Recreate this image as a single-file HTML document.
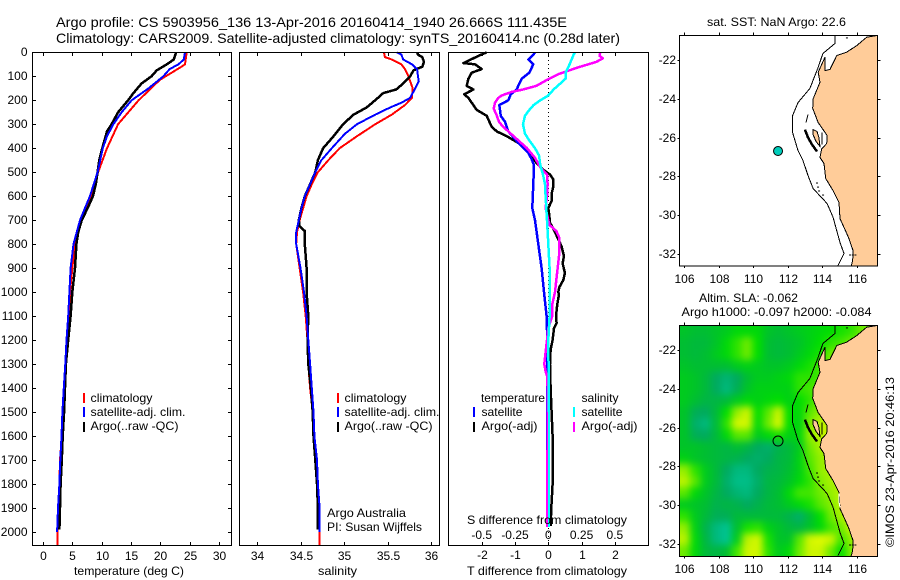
<!DOCTYPE html>
<html lang="en">
<head>
<meta charset="utf-8">
<title>Argo profile 5903956_136</title>
<style>
html,body{margin:0;padding:0;background:#fff;}
svg{display:block;font-family:"Liberation Sans",sans-serif;font-size:12px;fill:#000;}
text{fill:#000;}
.frame{fill:none;stroke:#000;stroke-width:1;shape-rendering:crispEdges;}
</style>
</head>
<body>
<svg id="chart" xmlns="http://www.w3.org/2000/svg" width="900" height="580" viewBox="0 0 900 580">
  <defs>
    <clipPath id="clip-map1"><rect x="679.5" y="35.5" width="198" height="230.5"/></clipPath>
    <clipPath id="clip-map2"><rect x="679.5" y="325.5" width="198" height="231"/></clipPath>
    <filter id="soften" x="-10%" y="-10%" width="120%" height="120%" color-interpolation-filters="sRGB"><feGaussianBlur stdDeviation="3.6"/></filter>
  </defs>

  <text x="56" y="27" font-size="14" textLength="511" lengthAdjust="spacingAndGlyphs">Argo profile: CS 5903956_136 13-Apr-2016 20160414_1940 26.666S 111.435E</text>
  <text x="56" y="43" font-size="14" textLength="564" lengthAdjust="spacingAndGlyphs">Climatology: CARS2009. Satellite-adjusted climatology: synTS_20160414.nc (0.28d later)</text>

  <g id="panel-temp"></g>
  <g id="panel-sal"></g>
  <g id="panel-diff"></g>
  <g id="map-sst" clip-path="url(#clip-map1)"></g>
  <g id="map-sla" clip-path="url(#clip-map2)"></g>
  <g id="axes"></g>

  <text x="74" y="575" textLength="110" lengthAdjust="spacingAndGlyphs">temperature (deg C)</text>
  <text x="318" y="575" textLength="39" lengthAdjust="spacingAndGlyphs">salinity</text>
  <text x="467" y="575" textLength="160" lengthAdjust="spacingAndGlyphs">T difference from climatology</text>
  <text x="467" y="524" textLength="160" lengthAdjust="spacingAndGlyphs">S difference from climatology</text>

  <g>
    <rect x="83" y="393" width="2" height="10" fill="#f00"/>
    <text x="90.5" y="402" textLength="62" lengthAdjust="spacingAndGlyphs">climatology</text>
    <rect x="83" y="407" width="2" height="10" fill="#00f"/>
    <text x="90.5" y="416" textLength="95" lengthAdjust="spacingAndGlyphs">satellite-adj. clim.</text>
    <rect x="83" y="422" width="2" height="10" fill="#000"/>
    <text x="90.5" y="430" textLength="88" lengthAdjust="spacingAndGlyphs">Argo(..raw -QC)</text>
  </g>
  <g>
    <rect x="337" y="393" width="2" height="10" fill="#f00"/>
    <text x="344.5" y="402" textLength="62" lengthAdjust="spacingAndGlyphs">climatology</text>
    <rect x="337" y="407" width="2" height="10" fill="#00f"/>
    <text x="344.5" y="416" textLength="95" lengthAdjust="spacingAndGlyphs">satellite-adj. clim.</text>
    <rect x="337" y="422" width="2" height="10" fill="#000"/>
    <text x="344.5" y="430" textLength="88" lengthAdjust="spacingAndGlyphs">Argo(..raw -QC)</text>
  </g>
  <text x="327" y="517" textLength="79" lengthAdjust="spacingAndGlyphs">Argo Australia</text>
  <text x="327" y="531" textLength="95" lengthAdjust="spacingAndGlyphs">PI: Susan Wijffels</text>

  <g>
    <text x="481" y="402" textLength="64" lengthAdjust="spacingAndGlyphs">temperature</text>
    <rect x="473" y="407" width="2" height="10" fill="#00f"/>
    <text x="481.5" y="416" textLength="41" lengthAdjust="spacingAndGlyphs">satellite</text>
    <rect x="473" y="422" width="2" height="10" fill="#000"/>
    <text x="481.5" y="430" textLength="56" lengthAdjust="spacingAndGlyphs">Argo(-adj)</text>
    <text x="581.5" y="402" textLength="37" lengthAdjust="spacingAndGlyphs">salinity</text>
    <rect x="573" y="407" width="2" height="10" fill="#0ff"/>
    <text x="581.5" y="416" textLength="41" lengthAdjust="spacingAndGlyphs">satellite</text>
    <rect x="573" y="422" width="2" height="10" fill="#f0f"/>
    <text x="581.5" y="430" textLength="56" lengthAdjust="spacingAndGlyphs">Argo(-adj)</text>
  </g>

  <text x="707" y="26" textLength="139" lengthAdjust="spacingAndGlyphs">sat. SST: NaN Argo: 22.6</text>
  <text x="699" y="302" textLength="99" lengthAdjust="spacingAndGlyphs">Altim. SLA: -0.062</text>
  <text x="681.5" y="316" textLength="190" lengthAdjust="spacingAndGlyphs">Argo h1000: -0.097 h2000: -0.084</text>
  <text transform="translate(894,547) rotate(-90)" textLength="170" lengthAdjust="spacingAndGlyphs">©IMOS 23-Apr-2016 20:46:13</text>
</svg>

<script>
// ---------- Axis tick labels ----------
const depthTicks = [0,100,200,300,400,500,600,700,800,900,1000,1100,1200,1300,1400,1500,1600,1700,1800,1900,2000];
const tempTicks = [0,5,10,15,20,25,30];
const salTicks = [34,34.5,35,35.5,36];
const tDiffTicks = [-2,-1,0,1,2];
const sDiffTicks = [-0.5,-0.25,0,0.25,0.5];
const lonTicks = [106,108,110,112,114,116];
const latTicks = [-22,-24,-26,-28,-30,-32];

// ---------- Temperature profiles ----------
const tempClimDepth = [0,50,60,115,200,300,400,500,600,700,800,900,1000,1100,1200,1300,1400,1500,1600,1700,1800,1900,2000,2054];
const tempClim = [24.5,24.2,23.6,19.9,16.3,12.8,10.9,9.4,8.3,6.5,5.45,5.0,4.6,4.4,4.0,3.8,3.6,3.35,3.2,2.9,2.8,2.6,2.45,2.45];
const tempSatDepth = [0,30,50,70,100,150,200,250,300,350,400,500,600,700,800,900,1000,1100,1200,1300,1400,1500,1600,1700,1800,1900,2000];
const tempSat = [24.2,24,23.1,21.6,20.5,18,15.1,13.4,12,10.9,10.2,9.3,8,6.3,5.2,4.7,4.5,4.3,4,3.8,3.55,3.3,3.15,2.95,2.8,2.55,2.4];
const tempArgoDepth = [0,30,50,75,100,130,170,200,250,300,330,400,450,500,550,600,650,700,750,800,900,1000,1100,1200,1300,1400,1500,1600,1700,1800,1900,1990];
const tempArgo = [22.7,22.3,21.1,19.4,18.5,16.8,15.4,14.5,12.8,11.7,10.9,10.1,9.6,9.3,9,8.5,7.6,6.6,6,5.7,5.45,5,4.7,4.3,3.9,3.75,3.6,3.35,3.2,3,2.9,2.8];

// ---------- Salinity profiles ----------
const salClimDepth = [0,20,30,50,70,100,150,190,220,260,300,350,400,450,500,550,600,650,700,750,800,900,1000,1100,1200,1300,1400,1500,1600,1700,1800,1900,2000,2054];
const salClim = [35.46,35.47,35.55,35.66,35.70,35.74,35.79,35.78,35.70,35.55,35.36,35.15,34.95,34.82,34.70,34.63,34.57,34.53,34.49,34.46,34.45,34.49,34.53,34.56,34.58,34.59,34.61,34.64,34.65,34.67,34.69,34.70,34.72,34.72];
const salSatDepth = [0,10,30,50,70,100,120,150,190,210,230,260,300,340,400,450,500,550,600,650,700,750,800,900,1000,1100,1200,1300,1400,1500,1600,1700,1800,1900,2000];
const salSat = [35.61,35.66,35.68,35.78,35.84,35.85,35.86,35.82,35.76,35.66,35.53,35.36,35.15,35.01,34.86,34.74,34.67,34.61,34.55,34.51,34.48,34.45,34.45,34.50,34.54,34.57,34.59,34.61,34.63,34.65,34.66,34.69,34.70,34.72,34.72];
const salArgoDepth = [0,10,20,40,60,75,100,130,155,170,190,230,260,300,350,400,450,500,550,600,650,700,725,745,800,850,900,1000,1100,1200,1300,1400,1500,1600,1700,1800,1900,1990];
const salArgo = [35.84,35.85,35.90,35.92,35.90,35.80,35.76,35.68,35.60,35.45,35.39,35.26,35.11,34.99,34.88,34.76,34.70,34.67,34.61,34.55,34.51,34.48,34.49,34.55,34.55,34.56,34.57,34.57,34.59,34.58,34.59,34.62,34.64,34.65,34.67,34.69,34.70,34.70];

// ---------- T difference from climatology ----------
const dTArgoDepth = [0,15,45,50,70,85,110,140,155,175,190,220,240,265,290,310,330,350,370,395,420,445,470,490,510,530,560,590,620,650,680,710,750,780,810,850,880,920,950,980,1000,1010,1050,1100,1130,1150,1200,1240,1300,1400,1500,1600,1700,1800,1900,1975];
const dTArgo = [-1.85,-2.1,-2.55,-2.2,-2,-2.3,-2.4,-2.45,-2.25,-2.53,-2.4,-2.25,-2.15,-1.85,-1.77,-1.7,-1.55,-1.25,-1,-0.7,-0.6,-0.45,-0.3,-0.15,0.05,0.15,0.15,0.1,0.1,0,0.03,0.05,0.2,0.3,0.4,0.47,0.43,0.5,0.45,0.33,0.3,0.32,0.27,0.23,0.25,0.17,0.13,0.07,0.05,0.07,0.1,0.13,0.13,0.13,0.09,0.07];
const dTSatDepth = [0,10,30,50,85,110,130,155,175,200,220,240,265,290,330,370,420,445,470,550,650,700,800,900,1000,1100,1200,1400,1500,1980];
const dTSat = [-0.4,-0.45,-0.6,-0.45,-0.57,-0.8,-0.87,-0.95,-1.13,-1.2,-1.47,-1.45,-1.43,-1.3,-1.2,-0.95,-0.6,-0.5,-0.43,-0.45,-0.48,-0.4,-0.3,-0.2,-0.13,-0.05,-0.03,-0.03,-0.03,-0.03];

// ---------- S difference from climatology ----------
const dSSatDepth = [0,10,50,85,110,130,155,180,200,220,245,265,300,340,370,400,430,470,510,550,600,700,800,900,1000,1100,1200,1500,1980];
const dSSat = [0.2,0.19,0.16,0.13,0.13,0.09,0.04,0,-0.06,-0.11,-0.15,-0.175,-0.19,-0.175,-0.14,-0.1,-0.07,-0.06,-0.04,-0.025,-0.02,-0.01,0,0.01,0.01,0.01,0,0.005,0.005];
const dSArgoDepth = [0,15,25,40,60,75,90,115,140,155,165,180,190,210,235,260,290,310,330,360,400,440,480,510,550,600,650,700,720,745,770,850,950,1000,1050,1100,1150,1200,1250,1300,1330,1350,1400,1650,1700,1980];
const dSArgo = [0.39,0.385,0.41,0.36,0.24,0.16,0.08,-0.01,-0.09,-0.19,-0.275,-0.35,-0.375,-0.4,-0.41,-0.39,-0.37,-0.34,-0.3,-0.24,-0.16,-0.1,-0.06,-0.01,-0.005,-0.01,-0.02,0,0.01,0.06,0.08,0.08,0.06,0.05,0.03,0.03,0,-0.01,-0.02,-0.03,-0.02,-0.01,-0.005,-0.005,-0.01,-0.01];

// ---------- Sea level anomaly grid (cm), rows north to south, columns west to east ----------
const slaRow0  = [-9,-10,-10,-9,-8,-6,-6,-6,-9,-10,-9,-8,-7,-6,-5,-4,-3,0,0];
const slaRow1  = [-10,-11,-11,-9,-6,-3,0,-5,-10,-11,-10,-9,-7,-5,-3,-2,0,0,0];
const slaRow2  = [-10,-11,-10,-8,-6,-3,0,-5,-10,-11,-10,-8,-6,-4,0,2,2,0,0];
const slaRow3  = [-9,-10,-10,-10,-10,-8,-7,-8,-9,-9,-8,-6,-4,-2,2,2,2,2,2];
const slaRow4  = [-8,-9,-11,-15,-17,-15,-10,-8,-8,-7,-6,-3,-3,-2,2,2,2,2,2];
const slaRow5  = [-8,-9,-11,-15,-18,-14,-9,-7,-7,-7,-7,-3,-2,0,2,2,2,2,2];
const slaRow6  = [-8,-10,-12,-12,-11,-8,-6,-7,-6,-5,-7,-5,-3,1,2,2,2,2,2];
const slaRow7  = [-9,-14,-15,-11,-5,2,5,-5,-1,5,-5,-6,-1,2,3,2,2,2,2];
const slaRow8  = [-9,-16,-18,-11,-3,6,6,-6,0,7,-5,-7,1,4,5,4,2,2,2];
const slaRow9  = [-9,-14,-15,-11,-6,-1,-1,-8,-6,-4,-7,-6,2,4,5,4,2,2,2];
const slaRow10 = [-9,-9,-10,-11,-12,-10,-12,-15,-16,-13,-11,-8,0,3,3,2,2,2,2];
const slaRow11 = [-7,-9,-10,-11,-12,-13,-15,-16,-15,-12,-11,-7,-1,2,3,2,2,2,2];
const slaRow12 = [2,-3,-8,-11,-15,-18,-18,-15,-13,-12,-10,-7,-2,2,3,3,2,2,2];
const slaRow13 = [4,-1,-8,-11,-16,-19,-19,-16,-12,-11,-9,-6,-3,1,3,3,2,2,2];
const slaRow14 = [-1,-6,-9,-12,-15,-17,-18,-15,-12,-10,-6,-2,-2,0,2,4,2,2,2];
const slaRow15 = [-8,-9,-10,-13,-12,-13,-15,-13,-11,-10,-8,-6,-4,-1,1,4,4,2,2];
const slaRow16 = [-3,-8,-11,-14,-14,-11,-11,-11,-11,-11,-13,-16,-10,-5,0,3,5,2,2];
const slaRow17 = [2,-7,-13,-18,-20,-10,-4,-3,-7,-9,-11,-12,-9,-6,-2,0,5,4,2];
const slaRow18 = [4,-6,-12,-18,-20,-8,4,6,-4,-9,-9,-1,6,8,5,-2,2,4,2];
const slaRow19 = [0,-6,-11,-12,-10,-2,5,6,-3,-8,-6,0,5,5,0,-5,1,3,2];
const slaGrid = [slaRow0,slaRow1,slaRow2,slaRow3,slaRow4,slaRow5,slaRow6,slaRow7,slaRow8,slaRow9,slaRow10,slaRow11,slaRow12,slaRow13,slaRow14,slaRow15,slaRow16,slaRow17,slaRow18,slaRow19];

// ---------- Geography (degrees) ----------
const coastLon = [117.16,116.56,115.98,115.40,114.83,114.44,114.15,114.15,113.76,113.86,113.47,113.44,113.76,114.28,114.25,113.96,113.86,114.09,114.19,114.61,114.96,115.02,115.50,115.77,115.75,115.64];
const coastLat = [-20.71,-20.80,-21.23,-21.57,-21.74,-22.46,-22.52,-21.83,-22.60,-23.12,-23.97,-24.47,-25.20,-25.87,-26.28,-26.55,-27.00,-27.31,-28.08,-28.70,-29.32,-30.15,-31.11,-31.79,-32.31,-32.66];
const peninsulaLon = [113.46,113.69,113.80,113.86,113.63,113.46];
const peninsulaLat = [-25.56,-25.66,-25.97,-26.43,-26.17,-25.82];
const contourLon = [114.73,114.73,114.03,113.75,113.57,113.28,112.59,112.28,112.28,112.59,112.88,113.17,113.46,114.27,114.62,115.02,115.25,114.9];
const contourLat = [-20.71,-21.12,-21.64,-22.36,-22.77,-23.44,-24.17,-24.84,-25.71,-26.64,-27.16,-27.93,-28.60,-29.37,-30.09,-31.38,-31.95,-32.57];
const islandLon = [112.99,113.17,113.40,113.69];
const islandLat = [-25.56,-25.97,-26.33,-26.69];
const bernierLon = [113.17,113.05];
const bernierLat = [-24.78,-25.19];
const bayLineLon = [113.98,113.98];
const bayLineLat = [-25.71,-26.33];
const isletLon = [113.63,113.69,113.75,113.98,115.36,115.54,115.70,115.85];
const isletLat = [-28.29,-28.5,-28.7,-28.91,-20.81,-32,-32,-32];
const noDataLon = [114.96,114.96,115.02];
const noDataLat = [-29.37,-29.8,-30.09];
const argoLon = [111.435];
const argoLat = [-26.666];

// ---------- Colour scale (cm to RGB) ----------
const colourStops = [-20,-15,-10,-5,0,5,10];
const colourR = [0,0,0,0,110,205,235];
const colourG = [195,170,190,222,235,245,255];
const colourB = [145,95,50,0,0,0,0];

// ---------- Scales ----------
const svgNS = 'http://www.w3.org/2000/svg';
function depthY(d){ return 52.3 + 0.2398*d; }
function tempX(t){ return 43 + 5.867*t; }
function salX(s){ return 257 + 87*(s-34); }
function tDiffX(t){ return 548.3 + 33.3*t; }
function sDiffX(s){ return 548.3 + 133.2*s; }
function lonX(lon){ return 684 + (lon-106)*17.3; }
function latY(lat, base){ return base + (-22-lat)*19.4; }

function make(tag, parent, attrs){
  const el = document.createElementNS(svgNS, tag);
  for (const k in attrs) el.setAttribute(k, attrs[k]);
  parent.appendChild(el);
  return el;
}
function colourFor(v){
  let i = 0;
  while (i < colourStops.length-2 && v > colourStops[i+1]) i++;
  const f = Math.max(0, Math.min(1, (v-colourStops[i])/(colourStops[i+1]-colourStops[i])));
  const mix = function(a){ return Math.round(a[i]+(a[i+1]-a[i])*f); };
  return 'rgb('+mix(colourR)+','+mix(colourG)+','+mix(colourB)+')';
}
function drawProfile(parent, depths, values, xFn, colour, name, width){
  const pts = depths.map(function(d,i){ return xFn(values[i]).toFixed(1)+','+depthY(d).toFixed(1); }).join(' ');
  const el = make('polyline', parent, {points:pts, fill:'none', stroke:colour, 'stroke-width':width, 'shape-rendering':'crispEdges', 'stroke-linejoin':'round'});
  
  
}
function drawLabel(parent, x, y, str, anchor, name){
  const el = make('text', parent, {x:x, y:y, 'text-anchor':anchor});
  el.textContent = str;
  
  
}
function drawTick(parent, x1, y1, x2, y2, name){
  const el = make('line', parent, {x1:x1, y1:y1, x2:x2, y2:y2, stroke:'#000', 'stroke-width':1, 'shape-rendering':'crispEdges'});
  
  
}
function drawFrame(parent, x, y, w, h, name){
  const el = make('rect', parent, {x:x, y:y, width:w, height:h, 'class':'frame'});
  
  
}

// ---------- Profile panels ----------
const pTemp = document.getElementById('panel-temp');
drawProfile(pTemp, tempClimDepth, tempClim, tempX, '#f00', 'temperature-climatology-line', 2);
drawProfile(pTemp, tempArgoDepth, tempArgo, tempX, '#000', 'temperature-argo-line', 2.5);
drawProfile(pTemp, tempSatDepth, tempSat, tempX, '#00f', 'temperature-satellite-line', 2);

const pSal = document.getElementById('panel-sal');
drawProfile(pSal, salClimDepth, salClim, salX, '#f00', 'salinity-climatology-line', 2);
drawProfile(pSal, salArgoDepth, salArgo, salX, '#000', 'salinity-argo-line', 2.5);
drawProfile(pSal, salSatDepth, salSat, salX, '#00f', 'salinity-satellite-line', 2);

const pDiff = document.getElementById('panel-diff');
const zeroLine = make('line', pDiff, {x1:tDiffX(0), y1:52, x2:tDiffX(0), y2:545, stroke:'#000', 'stroke-width':1, 'stroke-dasharray':'1 3', 'shape-rendering':'crispEdges'});


drawProfile(pDiff, dTArgoDepth, dTArgo, tDiffX, '#000', 't-difference-argo-line', 2.5);
drawProfile(pDiff, dTSatDepth, dTSat, tDiffX, '#00f', 't-difference-satellite-line', 2.5);
drawProfile(pDiff, dSArgoDepth, dSArgo, sDiffX, '#f0f', 's-difference-argo-line', 2.5);
drawProfile(pDiff, dSSatDepth, dSSat, sDiffX, '#0ff', 's-difference-satellite-line', 2.5);

// ---------- Maps ----------
function pointsFrom(lons, lats, base){
  return lons.map(function(lon,i){ return lonX(lon).toFixed(1)+','+latY(lats[i],base).toFixed(1); }).join(' ');
}
function drawGeoLine(parent, lons, lats, base, width, name, colour){
  const el = make('polyline', parent, {points:pointsFrom(lons,lats,base), fill:'none', stroke:colour, 'stroke-width':width, 'shape-rendering':'crispEdges'});
  
  
}
function drawMapBase(parent, base){
  const landLon = coastLon.concat([118,118]);
  const landLat = coastLat.concat([-33,-20]);
  const land = make('polygon', parent, {points:pointsFrom(landLon,landLat,base), fill:'#ffcc99', stroke:'#000', 'stroke-width':1, 'shape-rendering':'crispEdges'});
  
  
  const pen = make('polygon', parent, {points:pointsFrom(peninsulaLon,peninsulaLat,base), fill:'#ffcc99', stroke:'#000', 'stroke-width':1, 'shape-rendering':'crispEdges'});
  
  
  drawGeoLine(parent, contourLon, contourLat, base, 1, 'depth-contour', '#000');
  drawGeoLine(parent, islandLon, islandLat, base, 2.5, 'dirk-hartog-island', '#000');
  drawGeoLine(parent, bernierLon, bernierLat, base, 1, 'bernier-island', '#000');
  drawGeoLine(parent, bayLineLon, bayLineLat, base, 1, 'shark-bay-line', '#000');
  isletLon.forEach(function(lon,i){
    const el = make('rect', parent, {x:lonX(lon), y:latY(isletLat[i],base), width:2, height:1, fill:'#000'});
    
    
  });
}

const mapSst = document.getElementById('map-sst');
const bgSst = make('rect', mapSst, {x:679, y:35, width:199, height:232, fill:'#fff'});


drawMapBase(mapSst, 60.5);
const dotSst = make('circle', mapSst, {cx:lonX(argoLon[0]), cy:latY(argoLat[0],60.5), r:4.5, fill:'#00cdbb', stroke:'#000', 'stroke-width':1});



const mapSla = document.getElementById('map-sla');
const heat = make('g', mapSla, {filter:'url(#soften)'});


const cellW = 198/slaGrid[0].length;
const cellH = 231/slaGrid.length;
slaGrid.forEach(function(row,j){
  row.forEach(function(v,i){
    const padL = i===0 ? 16 : 0;
    const padT = j===0 ? 16 : 0;
    const padR = i===row.length-1 ? 16 : 0;
    const padB = j===slaGrid.length-1 ? 16 : 0;
    const cell = make('rect', heat, {x:679.5+i*cellW-padL, y:325.5+j*cellH-padT, width:cellW+padL+padR+0.5, height:cellH+padT+padB+0.5, fill:colourFor(v)});
    
    
  });
});
drawMapBase(mapSla, 350.5);
drawGeoLine(mapSla, noDataLon, noDataLat, 350.5, 1, 'no-data-coast-strip', '#fff');
const dotSla = make('circle', mapSla, {cx:lonX(argoLon[0]), cy:latY(argoLat[0],350.5), r:5, fill:'none', stroke:'#000', 'stroke-width':1});



// ---------- Frames, ticks, labels ----------
const axes = document.getElementById('axes');
drawFrame(axes, 32.5, 52.5, 199, 493, 'temperature-plot-frame');
drawFrame(axes, 239.5, 52.5, 200, 493, 'salinity-plot-frame');
drawFrame(axes, 448.5, 52.5, 200, 493, 'difference-plot-frame');
drawFrame(axes, 679.5, 35.5, 198, 230.5, 'sst-map-frame');
drawFrame(axes, 679.5, 325.5, 198, 231, 'sla-map-frame');

depthTicks.forEach(function(d){
  const y = Math.round(depthY(d))+0.5;
  drawTick(axes, 32.5, y, 36, y, 'depth-tick');
  drawTick(axes, 228, y, 231.5, y, 'depth-tick');
  drawLabel(axes, 27.5, y+3.5, String(d), 'end', 'depth-tick-label');
});
function bottomAxis(ticks, xFn, labelY, prefix){
  ticks.forEach(function(t){
    const x = Math.round(xFn(t))+0.5;
    drawTick(axes, x, 52.5, x, 56, prefix+'-top-tick');
    drawTick(axes, x, 542, x, 545.5, prefix+'-bottom-tick');
    drawLabel(axes, x, labelY, String(t), 'middle', prefix+'-tick-label');
  });
}
bottomAxis(tempTicks, tempX, 560, 'temperature');
bottomAxis(salTicks, salX, 560, 'salinity');
bottomAxis(tDiffTicks, tDiffX, 559, 't-difference');
sDiffTicks.forEach(function(s){
  drawLabel(axes, sDiffX(s), 539, String(s), 'middle', 's-difference-tick-label');
});

function mapAxes(base, top, bottom, labelY, prefix){
  lonTicks.forEach(function(lon){
    const x = Math.round(lonX(lon))+0.5;
    drawTick(axes, x, top-3, x, top, prefix+'-longitude-tick');
    drawTick(axes, x, bottom, x, bottom+2, prefix+'-longitude-tick');
    drawLabel(axes, x, labelY, String(lon), 'middle', prefix+'-longitude-label');
  });
  latTicks.forEach(function(lat){
    const y = Math.round(latY(lat,base))+0.5;
    drawTick(axes, 677.5, y, 679.5, y, prefix+'-latitude-tick');
    drawTick(axes, 877.5, y, 880.5, y, prefix+'-latitude-tick');
    drawLabel(axes, 676, y+3.5, String(lat), 'end', prefix+'-latitude-label');
  });
}
mapAxes(60, 35.5, 266, 283, 'sst-map');
mapAxes(350, 325.5, 556.5, 573, 'sla-map');
</script>
</body>
</html>
